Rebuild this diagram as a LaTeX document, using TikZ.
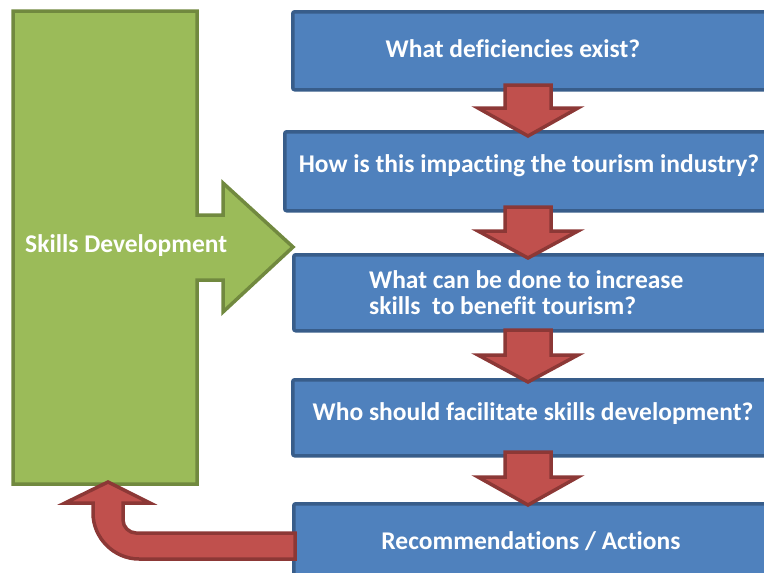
\documentclass[tikz,border=0pt]{standalone}
\usepackage{fontspec}
\setmainfont{Carlito}[Ligatures=NoCommon]
\definecolor{gfill}{HTML}{9BBB59}
\definecolor{gline}{HTML}{71893F}
\definecolor{bfill}{HTML}{4F81BD}
\definecolor{bline}{HTML}{385D8A}
\definecolor{rfill}{HTML}{C0504D}
\definecolor{rline}{HTML}{8C3836}
\tikzset{
  qbox/.style={draw=bline, fill=bfill, line width=3.5pt, rounded corners=2pt, anchor=north west, inner sep=0pt, minimum width=520pt},
  qtext/.style={text=white, font=\bfseries\fontsize{25.5}{26}\selectfont, inner sep=0pt},
  redarrow/.style={draw=rline, fill=rfill, line width=3.5pt, line join=miter},
  greenshape/.style={draw=gline, fill=gfill, line width=3.5pt, line join=miter},
}
\newcommand\downblock[3]{%
  \path[redarrow] (505,#1) -- (551,#1) -- (551,#2) -- (578,#2) -- (528,#3) -- (478,#2) -- (505,#2) -- cycle;}
\begin{document}
\begin{tikzpicture}[x=1pt,y=-1pt]
\useasboundingbox (0,0) rectangle (764,573);
\clip (0,0) rectangle (764,573);
% green shape
\path[greenshape] (13,11) -- (197,11) -- (197,215) -- (223,215) -- (223,183) -- (293,247) -- (223,312) -- (223,280) -- (197,280) -- (197,484) -- (13,484) -- cycle;
\node[qtext, anchor=west] (skills) at (25,246) {Skills Development};
% boxes
\node[qbox, minimum height=78pt] (b1) at (291,10) {};
\node[qbox, minimum height=79pt] (b2) at (283,130) {};
\node[qbox, minimum height=76pt] (b3) at (292,253) {};
\node[qbox, minimum height=76pt] (b4) at (291,378) {};
\node[qbox, minimum height=90pt] (b5) at (292,502) {};
% texts
\node[qtext] (t1) at (513,49) {What deficiencies exist?};
\node[qtext] (t2) at (529,166) {How is this impacting the tourism industry?};
\node[qtext, align=left, anchor=west] (t3) at (369,293) {What can be done to increase\\skills~ to benefit tourism?};
\node[qtext] (t4) at (533,414) {Who should facilitate skills development?};
\node[qtext] (t5) at (531,541) {Recommendations / Actions};
% down arrows
\downblock{85}{108}{136}
\downblock{207}{231}{258}
\downblock{330}{355}{382}
\downblock{452}{477}{505}
% return arrow
\path[redarrow] (295,533) -- (136,533) .. controls (129,533) and (123,527) .. (123,520) -- (123,503) -- (150,503) -- (108,482) -- (65,503) -- (93,503) -- (93,513) .. controls (93,538) and (114,559) .. (139,559) -- (295,559) -- cycle;
\end{tikzpicture}
\end{document}
